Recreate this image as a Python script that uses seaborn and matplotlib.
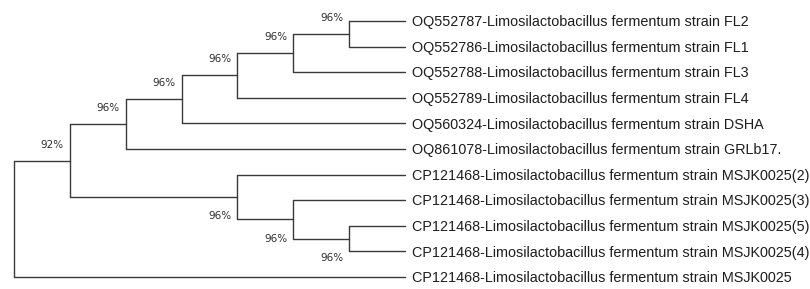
import matplotlib
matplotlib.use("Agg")
import matplotlib.pyplot as plt
import seaborn as sns
import pandas as pd

# leaf names, top to bottom
leaf_names = [
    "OQ552787-Limosilactobacillus fermentum strain FL2",
    "OQ552786-Limosilactobacillus fermentum strain FL1",
    "OQ552788-Limosilactobacillus fermentum strain FL3",
    "OQ552789-Limosilactobacillus fermentum strain FL4",
    "OQ560324-Limosilactobacillus fermentum strain DSHA",
    "OQ861078-Limosilactobacillus fermentum strain GRLb17.",
    "CP121468-Limosilactobacillus fermentum strain MSJK0025(2)",
    "CP121468-Limosilactobacillus fermentum strain MSJK0025(3)",
    "CP121468-Limosilactobacillus fermentum strain MSJK0025(5)",
    "CP121468-Limosilactobacillus fermentum strain MSJK0025(4)",
    "CP121468-Limosilactobacillus fermentum strain MSJK0025",
]

# topology (leaf indices) with bootstrap support after each clade
tree_newick = "(((((((0,1)96,2)96,3)96,4)96,5)96,(6,(7,(8,9)96)96)96)92,10);"


def parse(s, i=0):
    if s[i] == "(":
        children = []
        i += 1
        while True:
            child, i = parse(s, i)
            children.append(child)
            if s[i] == ",":
                i += 1
                continue
            i += 1  # ')'
            break
        j = i
        while i < len(s) and s[i] not in ",);":
            i += 1
        return {"children": children, "support": s[j:i]}, i
    j = i
    while s[i] not in ",)":
        i += 1
    return {"leaf": int(s[j:i])}, i


def layout(node):
    if "leaf" in node:
        node["h"] = 0
        node["y"] = node["leaf"]
        return
    for c in node["children"]:
        layout(c)
    node["h"] = 1 + max(c["h"] for c in node["children"])
    node["y"] = (node["children"][0]["y"] + node["children"][-1]["y"]) / 2


root, _ = parse(tree_newick)
layout(root)
depth = root["h"]

segs = []
internal = []


def collect(node):
    if "leaf" in node:
        return
    x = depth - node["h"]
    internal.append(node)
    segs.append([(x, node["children"][0]["y"]), (x, node["children"][-1]["y"])])
    for c in node["children"]:
        segs.append([(x, c["y"]), (depth - c["h"], c["y"])])
        collect(c)


def leaves_of(node):
    if "leaf" in node:
        return [node["leaf"]]
    return [l for c in node["children"] for l in leaves_of(c)]


collect(root)

rows = []
for k, seg in enumerate(segs):
    for (x, y) in seg:
        rows.append({"x": x, "y": y, "seg": k})
df = pd.DataFrame(rows)

sns.set_theme(style="white")
plt.rcParams["font.family"] = ["Liberation Sans", "DejaVu Sans"]

fig = plt.figure(figsize=(8.1, 2.89), dpi=100)
ax = fig.add_axes([0, 0, 1, 1])

sns.lineplot(data=df, x="x", y="y", units="seg", estimator=None, sort=False,
             color="#3a3a3a", linewidth=1.0, ax=ax, legend=False)

# pixel mapping: root at x=14, leaf tips at x=405, first leaf y=21, last y=277
step = (405 - 14) / depth
ystep = (277 - 21) / (len(leaf_names) - 1)
ax.set_xlim(-14 / step, (810 - 14) / step)
ax.set_ylim((289 - 21) / ystep, -21 / ystep)
ax.axis("off")

for i, name in enumerate(leaf_names):
    ax.annotate(name, (depth, i), xytext=(5.2, -3.7), textcoords="offset points",
                ha="left", va="baseline", fontsize=10.4, color="#1e1e1e")

for node in internal:
    if not node["support"]:
        continue
    below = all(leaf_names[l].startswith("CP") for l in leaves_of(node))
    dy = -14.0 if below else 11.5
    ax.annotate(node["support"] + "%", (depth - node["h"], node["y"]),
                xytext=(-4.3, dy), textcoords="offset points",
                ha="right", va="center", fontsize=7.5, color="#2e2e2e",
                family="DejaVu Sans")

fig.savefig("out.png", dpi=100)
